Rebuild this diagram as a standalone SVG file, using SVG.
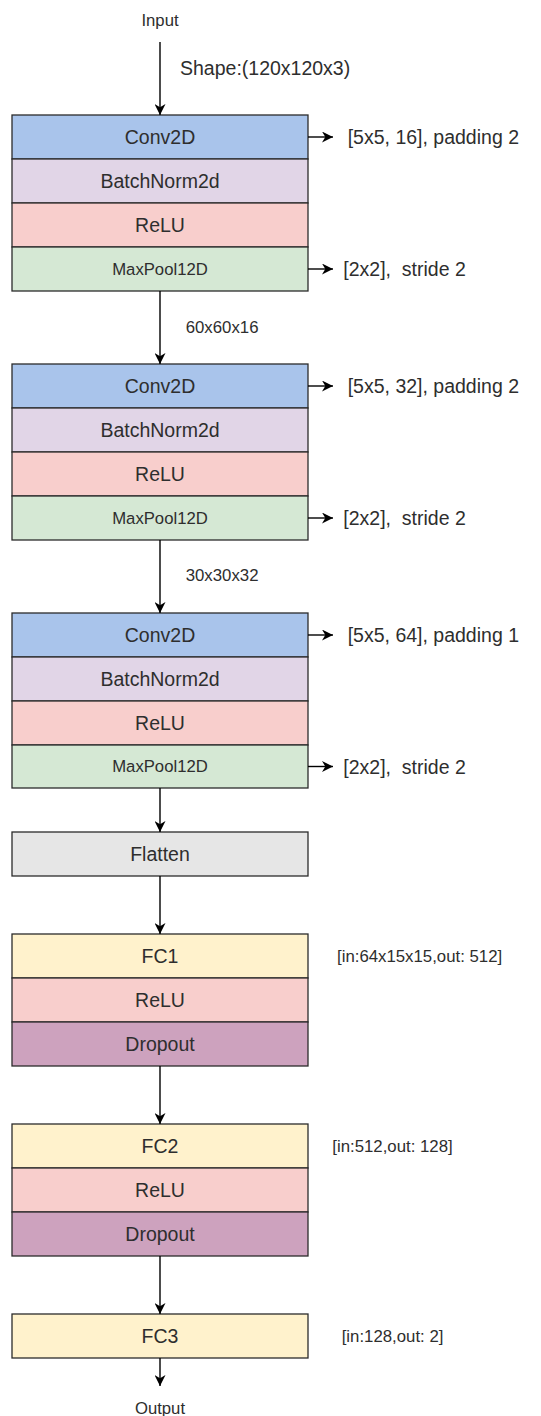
<svg xmlns="http://www.w3.org/2000/svg" width="541" height="1416" viewBox="0 0 541 1416">
  <style>
    .row { stroke: #2b2b2b; stroke-width: 1.3; }
    .conv { fill: #A9C4EB; }
    .bn { fill: #E1D5E7; }
    .relu { fill: #F8CECC; }
    .pool { fill: #D5E8D4; }
    .flat { fill: #E6E6E6; }
    .fc { fill: #FFF2CC; }
    .drop { fill: #CDA2BE; }
    text { font-family: "Liberation Sans", Arial, sans-serif; fill: #2e2e2e; dominant-baseline: central; white-space: pre; }
    .lbl { font-size: 19.5px; text-anchor: middle; }
    .small { font-size: 16.7px; text-anchor: middle; }
    .side { font-size: 19.5px; }
    .note { font-size: 16.8px; }
    .edge { stroke: #000; stroke-width: 1.4; fill: none; marker-end: url(#arrow); }
  </style>
  <defs>
    <marker id="arrow" viewBox="0 0 10 10" refX="10" refY="5" markerWidth="11" markerHeight="11" markerUnits="userSpaceOnUse" orient="auto">
      <path d="M0,0 L10,5 L0,10 L3,5 z" fill="#000"/>
    </marker>
  </defs>

  <!-- I/O labels -->
  <text x="160" y="20.5" class="small">Input</text>
  <text x="160" y="1408" class="small">Output</text>

  <!-- Conv block 1 -->
  <g id="block1">
    <rect class="row conv" x="12" y="115" width="296" height="44"/>
    <text x="160" y="137" class="lbl">Conv2D</text>
    <rect class="row bn" x="12" y="159" width="296" height="44"/>
    <text x="160" y="181" class="lbl">BatchNorm2d</text>
    <rect class="row relu" x="12" y="203" width="296" height="44"/>
    <text x="160" y="225" class="lbl">ReLU</text>
    <rect class="row pool" x="12" y="247" width="296" height="44"/>
    <text x="160" y="269" class="small">MaxPool12D</text>
  </g>

  <!-- Conv block 2 -->
  <g id="block2">
    <rect class="row conv" x="12" y="364" width="296" height="44"/>
    <text x="160" y="386" class="lbl">Conv2D</text>
    <rect class="row bn" x="12" y="408" width="296" height="44"/>
    <text x="160" y="430" class="lbl">BatchNorm2d</text>
    <rect class="row relu" x="12" y="452" width="296" height="44"/>
    <text x="160" y="474" class="lbl">ReLU</text>
    <rect class="row pool" x="12" y="496" width="296" height="44"/>
    <text x="160" y="518" class="small">MaxPool12D</text>
  </g>

  <!-- Conv block 3 -->
  <g id="block3">
    <rect class="row conv" x="12" y="613" width="296" height="44"/>
    <text x="160" y="635" class="lbl">Conv2D</text>
    <rect class="row bn" x="12" y="657" width="296" height="44"/>
    <text x="160" y="679" class="lbl">BatchNorm2d</text>
    <rect class="row relu" x="12" y="701" width="296" height="44"/>
    <text x="160" y="723" class="lbl">ReLU</text>
    <rect class="row pool" x="12" y="745" width="296" height="43"/>
    <text x="160" y="766.5" class="small">MaxPool12D</text>
  </g>

  <!-- Flatten -->
  <g id="flatten">
    <rect class="row flat" x="12" y="832" width="296" height="44"/>
    <text x="160" y="854" class="lbl">Flatten</text>
  </g>

  <!-- FC1 block -->
  <g id="fc1">
    <rect class="row fc" x="12" y="934" width="296" height="44"/>
    <text x="160" y="956" class="lbl">FC1</text>
    <rect class="row relu" x="12" y="978" width="296" height="44"/>
    <text x="160" y="1000" class="lbl">ReLU</text>
    <rect class="row drop" x="12" y="1022" width="296" height="44"/>
    <text x="160" y="1044" class="lbl">Dropout</text>
  </g>

  <!-- FC2 block -->
  <g id="fc2">
    <rect class="row fc" x="12" y="1124" width="296" height="44"/>
    <text x="160" y="1146" class="lbl">FC2</text>
    <rect class="row relu" x="12" y="1168" width="296" height="44"/>
    <text x="160" y="1190" class="lbl">ReLU</text>
    <rect class="row drop" x="12" y="1212" width="296" height="44"/>
    <text x="160" y="1234" class="lbl">Dropout</text>
  </g>

  <!-- FC3 -->
  <g id="fc3">
    <rect class="row fc" x="12" y="1314" width="296" height="44"/>
    <text x="160" y="1336" class="lbl">FC3</text>
  </g>

  <!-- connectors -->
  <g id="connectors">
    <path class="edge" d="M160,42 V115"/>
    <path class="edge" d="M160,291 V364"/>
    <path class="edge" d="M160,540 V613"/>
    <path class="edge" d="M160,788 V832"/>
    <path class="edge" d="M160,876 V934"/>
    <path class="edge" d="M160,1066 V1124"/>
    <path class="edge" d="M160,1256 V1314"/>
    <path class="edge" d="M160,1358 V1386"/>
    <path class="edge" d="M308,137 H333"/>
    <path class="edge" d="M308,269 H333"/>
    <path class="edge" d="M308,386 H333"/>
    <path class="edge" d="M308,518 H333"/>
    <path class="edge" d="M308,635 H333"/>
    <path class="edge" d="M308,766.5 H333"/>
  </g>

  <!-- annotations -->
  <text x="180" y="68" class="side">Shape:(120x120x3)</text>
  <text x="185.7" y="327" class="note">60x60x16</text>
  <text x="185.7" y="575" class="note">30x30x32</text>
  <text x="347.7" y="137" class="side">[5x5, 16], padding 2</text>
  <text x="343.3" y="269" class="side" xml:space="preserve">[2x2],  stride 2</text>
  <text x="347.7" y="386" class="side">[5x5, 32], padding 2</text>
  <text x="343.3" y="518" class="side" xml:space="preserve">[2x2],  stride 2</text>
  <text x="347.7" y="635" class="side">[5x5, 64], padding 1</text>
  <text x="343.3" y="766.5" class="side" xml:space="preserve">[2x2],  stride 2</text>
  <text x="337" y="956.5" class="note">[in:64x15x15,out: 512]</text>
  <text x="332.3" y="1146" class="note">[in:512,out: 128]</text>
  <text x="341.7" y="1336" class="note">[in:128,out: 2]</text>
</svg>
